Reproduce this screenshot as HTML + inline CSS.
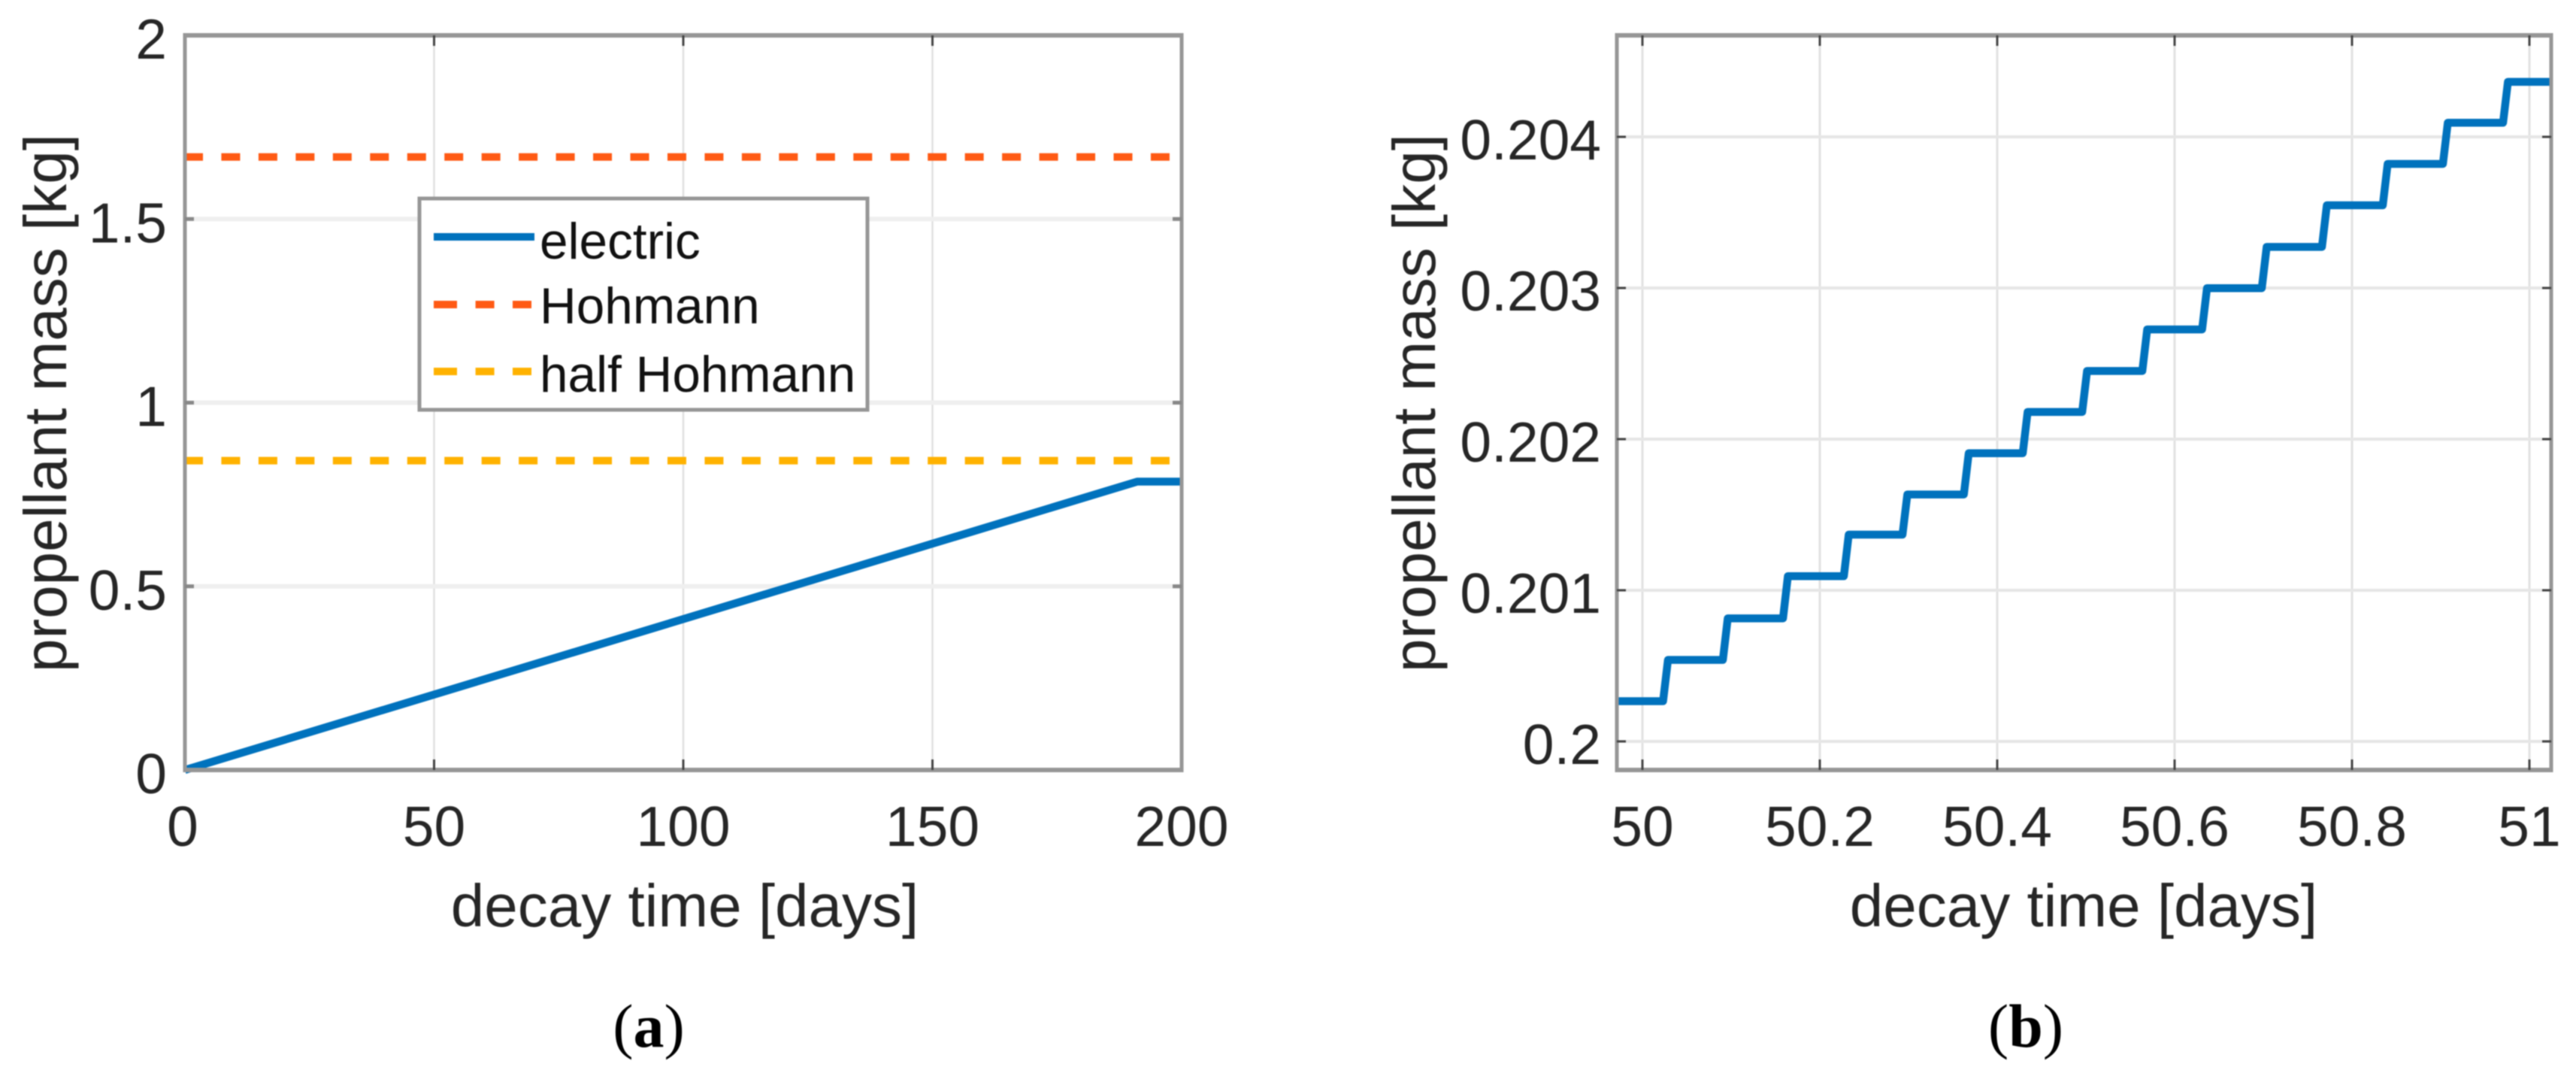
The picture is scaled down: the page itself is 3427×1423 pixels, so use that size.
<!DOCTYPE html>
<html lang="en">
<head>
<meta charset="utf-8">
<title>Propellant mass versus decay time</title>
<style>
html,body{margin:0;padding:0;background:#fff;width:3427px;height:1423px;overflow:hidden}
svg{display:block;filter:blur(0.8px)}
text{font-family:"Liberation Sans",Arial,sans-serif;fill:#262626}
.tick{font-size:75px}
.title{font-size:80px}
.leg{font-size:67.5px;fill:#111}
.cap{font-family:"Liberation Serif","Times New Roman",serif;font-size:82px;fill:#000}
.capb{font-weight:bold}
</style>
</head>
<body>
<svg id="figure" xmlns="http://www.w3.org/2000/svg" width="3427" height="1423" viewBox="0 0 3427 1423">
  <rect x="0" y="0" width="3427" height="1423" fill="#fff"/>

  <g id="panel-a">
    <g id="a-grid"></g>
    <g id="a-series"></g>
    <g id="a-axes"></g>
    <text class="title" x="911" y="1232" text-anchor="middle">decay time [days]</text>
    <text class="title" transform="translate(88,536) rotate(-90)" text-anchor="middle">propellant mass [kg]</text>

    <g>
      <rect x="558" y="264" width="596" height="281" fill="#fff" stroke="#969696" stroke-width="5"/>
      <line x1="577" x2="711" y1="315" y2="315" stroke="#0072BD" stroke-width="10"/>
      <text class="leg" x="718" y="344">electric</text>
      <line x1="577" x2="707" y1="405" y2="405" stroke="#FF5A14" stroke-width="10" stroke-dasharray="31 24.6 25 24.4 25"/>
      <text class="leg" x="718" y="430">Hohmann</text>
      <line x1="577" x2="707" y1="494" y2="494" stroke="#FFB200" stroke-width="10" stroke-dasharray="31 24.6 25 24.4 25"/>
      <text class="leg" x="718" y="521">half Hohmann</text>
    </g>
  </g>

  <g id="panel-b">
    <g id="b-grid"></g>
    <g id="b-series"></g>
    <g id="b-axes"></g>
    <text class="title" x="2772" y="1232" text-anchor="middle">decay time [days]</text>
    <text class="title" transform="translate(1909,536) rotate(-90)" text-anchor="middle">propellant mass [kg]</text>
  </g>

  <text class="cap" x="863" y="1392" text-anchor="middle">(<tspan class="capb">a</tspan>)</text>
  <text class="cap" x="2695" y="1392" text-anchor="middle">(<tspan class="capb">b</tspan>)</text>
</svg>

<script>
// ---- Panel (a) data ----
var aXTicks = [0, 50, 100, 150, 200];
var aXTickLabels = ['0', '50', '100', '150', '200'];
var aYTicks = [0, 0.5, 1, 1.5, 2];
var aYTickLabels = ['0', '0.5', '1', '1.5', '2'];
var aElectricTime = [0, 191.1, 200];
var aElectricMass = [0, 0.785, 0.785];
var aHohmannTime = [0, 200];
var aHohmannMass = [1.669, 1.669];
var aHalfHohmannTime = [0, 200];
var aHalfHohmannMass = [0.842, 0.842];

// ---- Panel (b) data ----
var bXTicks = [50, 50.2, 50.4, 50.6, 50.8, 51];
var bXTickLabels = ['50', '50.2', '50.4', '50.6', '50.8', '51'];
var bYTicks = [0.2, 0.201, 0.202, 0.203, 0.204];
var bYTickLabels = ['0.2', '0.201', '0.202', '0.203', '0.204'];
var bElectricTime = [
  49.971,
  50.0233, 50.0288, 50.0907, 50.0962, 50.1585, 50.1640, 50.2271, 50.2326,
  50.2932, 50.2987, 50.3624, 50.3679, 50.4288, 50.4343, 50.4958, 50.5013,
  50.5636, 50.5691, 50.6310, 50.6365, 50.6983, 50.7038, 50.7661, 50.7716,
  50.8347, 50.8402, 50.9025, 50.9080, 50.9703, 50.9758,
  51.0246
];
var bElectricMass = [
  0.200266,
  0.200266, 0.200539, 0.200539, 0.200814, 0.200814, 0.201093, 0.201093, 0.201368,
  0.201368, 0.201634, 0.201634, 0.201907, 0.201907, 0.202180, 0.202180, 0.202451,
  0.202451, 0.202726, 0.202726, 0.202999, 0.202999, 0.203272, 0.203272, 0.203547,
  0.203547, 0.203821, 0.203821, 0.204093, 0.204093, 0.204364,
  0.204364
];

// ---- Axis functions ----
function xA(v) { return 246 + v * (1572 - 246) / 200; }
function yA(v) { return 1024 - v * (1024 - 47) / 2; }
function xB(v) { return 2185 + (v - 50) * 1180; }
function yB(v) { return 986 - (v - 0.2) * 201000; }

var SVG_NS = 'http://www.w3.org/2000/svg';
function make(tag, attrs, parent) {
  var n = document.createElementNS(SVG_NS, tag);
  for (var k in attrs) { n.setAttribute(k, attrs[k]); }
  parent.appendChild(n);
  return n;
}
function pathFrom(xs, ys, fx, fy) {
  var d = '';
  for (var i = 0; i < xs.length; i++) {
    d += (i ? 'L' : 'M') + fx(xs[i]).toFixed(2) + ' ' + fy(ys[i]).toFixed(2);
  }
  return d;
}

function drawAxes(cfg) {
  var grid = document.getElementById(cfg.gridId);
  var axes = document.getElementById(cfg.axesId);
  var i, el, px;

  for (i = 0; i < cfg.xTicks.length; i++) {
    px = cfg.fx(cfg.xTicks[i]);
    el = make('line', {x1: px, x2: px, y1: cfg.top, y2: cfg.bottom, stroke: cfg.vGridColor, 'stroke-width': cfg.vGridWidth}, grid);
    
    
  }
  for (i = 0; i < cfg.yTicks.length; i++) {
    px = cfg.fy(cfg.yTicks[i]);
    el = make('line', {x1: cfg.left, x2: cfg.right, y1: px, y2: px, stroke: cfg.hGridColor, 'stroke-width': cfg.hGridWidth}, grid);
    
    
  }

  // frame
  el = make('line', {x1: cfg.left - 2.5, x2: cfg.right + 2.5, y1: cfg.top, y2: cfg.top, stroke: '#969696', 'stroke-width': 6}, axes);
  
  
  el = make('line', {x1: cfg.left - 2.5, x2: cfg.right + 2.5, y1: cfg.bottom, y2: cfg.bottom, stroke: '#969696', 'stroke-width': 6}, axes);
  
  
  el = make('line', {x1: cfg.left, x2: cfg.left, y1: cfg.top, y2: cfg.bottom, stroke: '#969696', 'stroke-width': 5}, axes);
  
  
  el = make('line', {x1: cfg.right, x2: cfg.right, y1: cfg.top, y2: cfg.bottom, stroke: '#969696', 'stroke-width': 5}, axes);
  
  

  // x ticks and labels
  for (i = 0; i < cfg.xTicks.length; i++) {
    px = cfg.fx(cfg.xTicks[i]);
    if (px > cfg.left + 5 && px < cfg.right - 5) {
      el = make('line', {x1: px, x2: px, y1: cfg.top, y2: cfg.top + 14, stroke: '#444', 'stroke-width': 3}, axes);
      
      
      el = make('line', {x1: px, x2: px, y1: cfg.bottom, y2: cfg.bottom - 14, stroke: '#444', 'stroke-width': 3}, axes);
      
      
    }
    el = make('text', {x: px - (i === 0 && cfg.shiftFirst ? 3 : 0), y: 1125, 'text-anchor': 'middle', 'class': 'tick'}, axes);
    el.textContent = cfg.xLabels[i];
    
    
  }

  // y ticks and labels
  for (i = 0; i < cfg.yTicks.length; i++) {
    px = cfg.fy(cfg.yTicks[i]);
    if (px > cfg.top + 5 && px < cfg.bottom - 5) {
      el = make('line', {x1: cfg.left, x2: cfg.left + 12, y1: px, y2: px, stroke: cfg.yTickColor, 'stroke-width': cfg.yTickWidth}, axes);
      
      
      el = make('line', {x1: cfg.right, x2: cfg.right - 12, y1: px, y2: px, stroke: cfg.yTickColor, 'stroke-width': cfg.yTickWidth}, axes);
      
      
    }
    el = make('text', {x: cfg.yLabelX, y: px + cfg.yLabelDy, 'text-anchor': 'end', 'class': 'tick'}, axes);
    el.textContent = cfg.yLabels[i];
    
    
  }
}

drawAxes({
  gridId: 'a-grid', axesId: 'a-axes', fx: xA, fy: yA,
  xTicks: aXTicks, xLabels: aXTickLabels, yTicks: aYTicks, yLabels: aYTickLabels,
  left: 246, right: 1572, top: 47, bottom: 1024,
  vGridColor: '#e0e0e0', vGridWidth: 2.5, hGridColor: '#efefef', hGridWidth: 6,
  yTickColor: '#888', yTickWidth: 5, yLabelX: 222, yLabelDy: 31, shiftFirst: true
});
drawAxes({
  gridId: 'b-grid', axesId: 'b-axes', fx: xB, fy: yB,
  xTicks: bXTicks, xLabels: bXTickLabels, yTicks: bYTicks, yLabels: bYTickLabels,
  left: 2151, right: 3394, top: 47, bottom: 1024,
  vGridColor: '#e2e2e2', vGridWidth: 3, hGridColor: '#e6e6e6', hGridWidth: 4,
  yTickColor: '#444', yTickWidth: 3, yLabelX: 2130, yLabelDy: 30, shiftFirst: false
});

// ---- Series ----
var aSeries = document.getElementById('a-series');
var bSeries = document.getElementById('b-series');

var lineHohmann = make('path', {d: pathFrom(aHohmannTime, aHohmannMass, xA, yA), fill: 'none', stroke: '#FF5A14', 'stroke-width': 10, 'stroke-dasharray': '25 24.46', 'stroke-dashoffset': 1}, aSeries);



var lineHalf = make('path', {d: pathFrom(aHalfHohmannTime, aHalfHohmannMass, xA, yA), fill: 'none', stroke: '#FFB200', 'stroke-width': 10, 'stroke-dasharray': '25 24.46', 'stroke-dashoffset': 1}, aSeries);



var lineElectricA = make('path', {d: pathFrom(aElectricTime, aElectricMass, xA, yA), fill: 'none', stroke: '#0072BD', 'stroke-width': 10.5, 'stroke-linejoin': 'round'}, aSeries);



var lineElectricB = make('path', {d: pathFrom(bElectricTime, bElectricMass, xB, yB), fill: 'none', stroke: '#0072BD', 'stroke-width': 10.5, 'stroke-linejoin': 'round'}, bSeries);


</script>
</body>
</html>
